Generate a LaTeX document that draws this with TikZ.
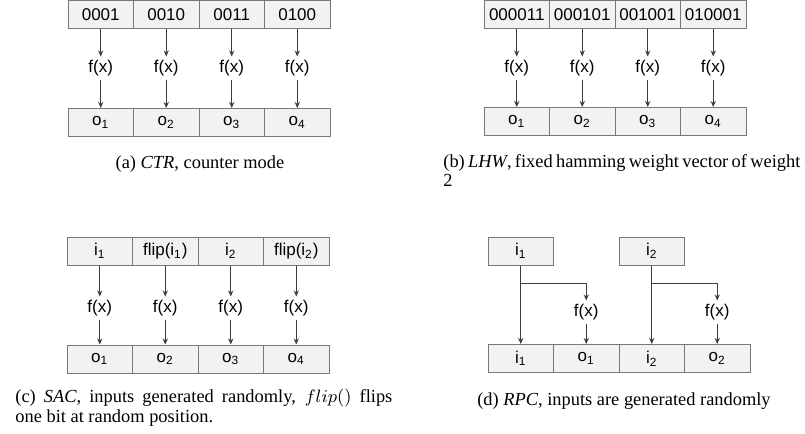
\documentclass[tikz,border=0pt]{standalone}
\usepackage{fontspec}
\setmainfont{Liberation Serif}
\setsansfont{Liberation Sans}
\definecolor{cellgray}{RGB}{242,242,242}
\definecolor{edgegray}{RGB}{120,120,120}
\definecolor{wiregray}{RGB}{60,60,60}
\usetikzlibrary{arrows.meta,positioning}

\tikzset{
  cell/.style={draw=edgegray, fill=cellgray, line width=0.5pt, minimum width=32.75pt, minimum height=14pt, inner sep=0pt, font=\sffamily\fontsize{8.5}{10}\selectfont},
  fx/.style={inner sep=1.6pt, font=\sffamily\fontsize{8.5}{10}\selectfont},
  flow/.style={draw=wiregray, line width=0.5pt, -{Stealth[length=3pt,width=2.6pt]}},
  subcap/.style={inner sep=0pt, font=\fontsize{9.2}{9.6}\selectfont}
}

\begin{document}
\begin{tikzpicture}[x=0.5pt, y=-0.5pt]
  \useasboundingbox (0,0) rectangle (805,434);

  % (a) counter mode
  \node[cell] (a1) at (100.75,14.5) {0001};
  \node[cell] (a2) at (166.25,14.5) {0010};
  \node[cell] (a3) at (231.75,14.5) {0011};
  \node[cell] (a4) at (297.25,14.5) {0100};

  \node[fx] (af1) at (100.75,68) {f(x)};
  \node[fx] (af2) at (166.25,68) {f(x)};
  \node[fx] (af3) at (231.75,68) {f(x)};
  \node[fx] (af4) at (297.25,68) {f(x)};

  \node[cell] (ao1) at (100.75,122.5) {o\textsubscript{1}};
  \node[cell] (ao2) at (166.25,122.5) {o\textsubscript{2}};
  \node[cell] (ao3) at (231.75,122.5) {o\textsubscript{3}};
  \node[cell] (ao4) at (297.25,122.5) {o\textsubscript{4}};

  \draw[flow] (a1) -- (af1);  \draw[flow] (af1) -- (ao1);
  \draw[flow] (a2) -- (af2);  \draw[flow] (af2) -- (ao2);
  \draw[flow] (a3) -- (af3);  \draw[flow] (af3) -- (ao3);
  \draw[flow] (a4) -- (af4);  \draw[flow] (af4) -- (ao4);

  \node[subcap, anchor=base] (capa) at (200,168) {(a) \textit{CTR}, counter mode};

  % (b) fixed hamming weight
  \node[cell] (b1) at (516.75,14.5) {000011};
  \node[cell] (b2) at (582.25,14.5) {000101};
  \node[cell] (b3) at (647.75,14.5) {001001};
  \node[cell] (b4) at (713.25,14.5) {010001};

  \node[fx] (bf1) at (516.75,68) {f(x)};
  \node[fx] (bf2) at (582.25,68) {f(x)};
  \node[fx] (bf3) at (647.75,68) {f(x)};
  \node[fx] (bf4) at (713.25,68) {f(x)};

  \node[cell] (bo1) at (516.75,121.5) {o\textsubscript{1}};
  \node[cell] (bo2) at (582.25,121.5) {o\textsubscript{2}};
  \node[cell] (bo3) at (647.75,121.5) {o\textsubscript{3}};
  \node[cell] (bo4) at (713.25,121.5) {o\textsubscript{4}};

  \draw[flow] (b1) -- (bf1);  \draw[flow] (bf1) -- (bo1);
  \draw[flow] (b2) -- (bf2);  \draw[flow] (bf2) -- (bo2);
  \draw[flow] (b3) -- (bf3);  \draw[flow] (bf3) -- (bo3);
  \draw[flow] (b4) -- (bf4);  \draw[flow] (bf4) -- (bo4);

  \node[subcap, anchor=north west, text width=178.5pt, align=justify] (capb) at (443,154)
    {(b) \textit{LHW}, fixed hamming weight vector of weight 2};

  % (c) strict avalanche
  \node[cell] (c1) at (99.75,251) {i\textsubscript{1}};
  \node[cell] (c2) at (165.25,251) {flip(i\textsubscript{1})};
  \node[cell] (c3) at (230.75,251) {i\textsubscript{2}};
  \node[cell] (c4) at (296.25,251) {flip(i\textsubscript{2})};

  \node[fx] (cf1) at (99.75,308) {f(x)};
  \node[fx] (cf2) at (165.25,308) {f(x)};
  \node[fx] (cf3) at (230.75,308) {f(x)};
  \node[fx] (cf4) at (296.25,308) {f(x)};

  \node[cell] (co1) at (99.75,359) {o\textsubscript{1}};
  \node[cell] (co2) at (165.25,359) {o\textsubscript{2}};
  \node[cell] (co3) at (230.75,359) {o\textsubscript{3}};
  \node[cell] (co4) at (296.25,359) {o\textsubscript{4}};

  \draw[flow] (c1) -- (cf1);  \draw[flow] (cf1) -- (co1);
  \draw[flow] (c2) -- (cf2);  \draw[flow] (cf2) -- (co2);
  \draw[flow] (c3) -- (cf3);  \draw[flow] (cf3) -- (co3);
  \draw[flow] (c4) -- (cf4);  \draw[flow] (cf4) -- (co4);

  \node[subcap, anchor=north west, text width=188.5pt, align=justify] (capc) at (15,389)
    {(c) \textit{SAC}, inputs generated randomly, $flip()$ flips\linebreak one bit at random position.};

  % (d) random plaintext/ciphertext
  \node[cell] (d1) at (520.75,251) {i\textsubscript{1}};
  \node[cell] (d2) at (651.75,251) {i\textsubscript{2}};

  \coordinate (dj1) at (520.75,283);
  \coordinate (dj2) at (651.75,283);

  \node[fx] (df1) at (586.25,312) {f(x)};
  \node[fx] (df2) at (717.25,312) {f(x)};

  \node[cell] (dx1) at (520.75,358.5) {i\textsubscript{1}};
  \node[cell] (do1) at (586.25,358.5) {o\textsubscript{1}};
  \node[cell] (dx2) at (651.75,358.5) {i\textsubscript{2}};
  \node[cell] (do2) at (717.25,358.5) {o\textsubscript{2}};

  \draw[flow] (d1) -- (dx1);
  \draw[flow] (dj1) -| (df1);  \draw[flow] (df1) -- (do1);
  \draw[flow] (d2) -- (dx2);
  \draw[flow] (dj2) -| (df2);  \draw[flow] (df2) -- (do2);

  \node[subcap, anchor=base] (capd) at (624,405) {(d) \textit{RPC}, inputs are generated randomly};
\end{tikzpicture}
\end{document}
